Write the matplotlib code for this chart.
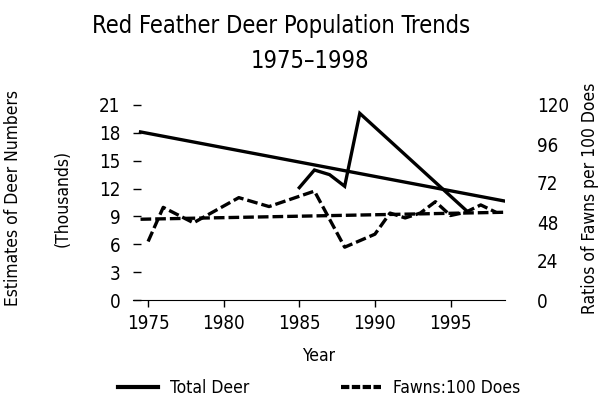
import numpy as np
import matplotlib.pyplot as plt
from matplotlib.lines import Line2D

plt.rcParams['font.family'] = ['DejaVu Sans']
plt.rcParams['font.stretch'] = 'condensed'

# Total deer estimates (thousands)
deer_years = [1985, 1986, 1987, 1988, 1989, 1996]
deer_vals = [12.1, 14.0, 13.5, 12.25, 20.1, 9.7]

# trend line for total deer
deer_trend_years = [1974.5, 1998.6]
deer_trend_vals = [18.1, 10.65]

# fawns per 100 does
fawn_years = [1975, 1976, 1978, 1981, 1983, 1986, 1988, 1990, 1991, 1992, 1993, 1994, 1995, 1996, 1997, 1998]
fawn_vals = [36, 57, 47.5, 63, 57.5, 67, 32.5, 40.5, 53.5, 50.5, 53.5, 60.5, 52, 54, 58.5, 54]

fawn_trend_years = [1974.5, 1998.6]
fawn_trend_vals = [49.7, 54.0]

left_ticks = [0, 3, 6, 9, 12, 15, 18, 21]
right_ticks = [0, 24, 48, 72, 96, 120]
x_ticks = [1975, 1980, 1985, 1990, 1995]

fig = plt.figure(figsize=(5.99, 4.0), dpi=100)
ax = fig.add_axes([0.222, 0.25, 0.621, 0.4875])
ax2 = ax.twinx()

dash = (0, (3.2, 1.2))
lw = 2.4

ax.plot(deer_years, deer_vals, color='black', lw=lw, solid_joinstyle='miter')
ax.plot(deer_trend_years, deer_trend_vals, color='black', lw=lw)
ax2.plot(fawn_years, fawn_vals, color='black', lw=lw, linestyle=dash)
ax2.plot(fawn_trend_years, fawn_trend_vals, color='black', lw=lw, linestyle=dash)

ax.set_xlim(1974, 1998.6)
ax.set_ylim(0, 21)
ax2.set_ylim(0, 120)

for a in (ax, ax2):
    for s in ['top', 'left', 'right']:
        a.spines[s].set_visible(False)
ax2.spines['bottom'].set_visible(False)

fs = 12.5
tfs = 13.5
ax.set_xticks(x_ticks)
ax.set_yticks(left_ticks)
ax2.set_yticks(right_ticks)
ax.tick_params(axis='y', direction='in', length=6, width=1, pad=9, labelsize=tfs)
ax.tick_params(axis='x', direction='out', length=5, width=1, pad=5, labelsize=tfs)
ax2.tick_params(axis='y', length=0, pad=23, labelsize=tfs)

ax.set_xlabel('Year', fontsize=fs, labelpad=10)
fig.text(0.022, 0.505, 'Estimates of Deer Numbers', rotation=90, ha='center', va='center', fontsize=fs)
fig.text(0.105, 0.505, '(Thousands)', rotation=90, ha='center', va='center', fontsize=fs)
fig.text(0.985, 0.505, 'Ratios of Fawns per 100 Does', rotation=90, ha='center', va='center', fontsize=fs)

fig.text(0.469, 0.935, 'Red Feather Deer Population Trends', ha='center', va='center', fontsize=17)
fig.text(0.518, 0.848, '1975\u20131998', ha='center', va='center', fontsize=17)

handles = [Line2D([], [], color='black', lw=3),
           Line2D([], [], color='black', lw=3, linestyle=(0, (2, 0.6)))]
fig.legend(handles, ['Total Deer', 'Fawns:100 Does'], loc='center', bbox_to_anchor=(0.533, 0.03),
           ncol=2, frameon=False, fontsize=fs, handlelength=2.3, handletextpad=0.7, columnspacing=5.3)

fig.savefig('out.png', dpi=100)
